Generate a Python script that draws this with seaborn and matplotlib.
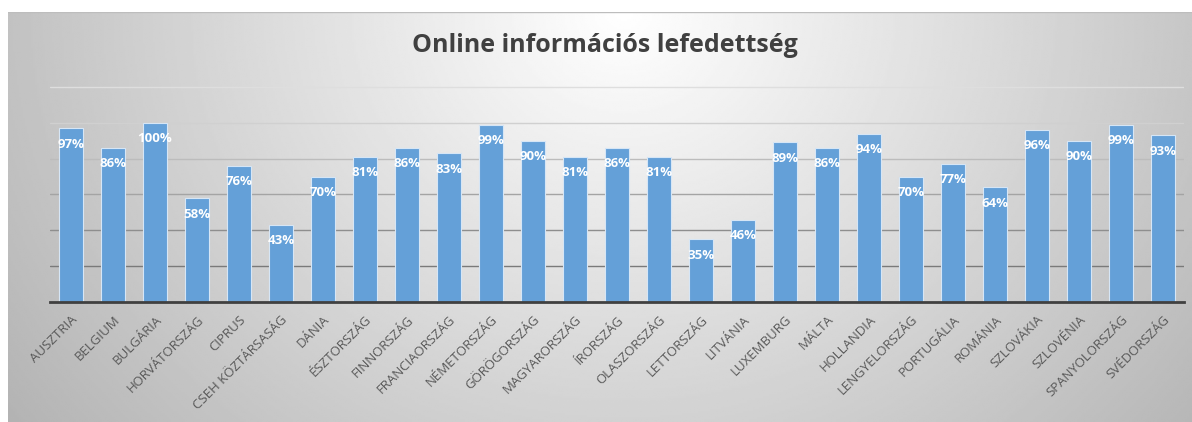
import numpy as np
import pandas as pd
import matplotlib
matplotlib.use('Agg')
import matplotlib.pyplot as plt
import seaborn as sns

# values
countries = ['AUSZTRIA', 'BELGIUM', 'BULGÁRIA', 'HORVÁTORSZÁG', 'CIPRUS',
             'CSEH KÖZTÁRSASÁG', 'DÁNIA', 'ÉSZTORSZÁG', 'FINNORSZÁG',
             'FRANCIAORSZÁG', 'NÉMETORSZÁG', 'GÖRÖGORSZÁG', 'MAGYARORSZÁG',
             'ÍRORSZÁG', 'OLASZORSZÁG', 'LETTORSZÁG', 'LITVÁNIA', 'LUXEMBURG',
             'MÁLTA', 'HOLLANDIA', 'LENGYELORSZÁG', 'PORTUGÁLIA', 'ROMÁNIA',
             'SZLOVÁKIA', 'SZLOVÉNIA', 'SPANYOLORSZÁG', 'SVÉDORSZÁG']
coverage = [97, 86, 100, 58, 76, 43, 70, 81, 86, 83, 99, 90, 81, 86, 81,
            35, 46, 89, 86, 94, 70, 77, 64, 96, 90, 99, 93]
grid_levels = [20, 40, 60, 80, 100, 120]
grid_colors = ['#7a7a7a', '#8e8e8e', '#a4a4a4', '#bcbcbc', '#d0d0d0', '#dedede']

df = pd.DataFrame({'country': countries, 'coverage': coverage})

sns.set_theme(style='white')
plt.rcParams['font.family'] = ['Open Sans', 'DejaVu Sans']

W, H = 1192, 422
fig = plt.figure(figsize=(W / 100, H / 100), dpi=100)
fig.patch.set_facecolor('white')

# gradient background of the chart frame
bg = fig.add_axes([8 / W, 0, 1 - 8 / W, (H - 12) / H])
yy, xx = np.mgrid[0:1:200j, 0:1:600j]
d = np.sqrt(((xx - 0.52) / 0.5) ** 2 + (yy / 1.3) ** 2)
shade = 1 - 0.23 * np.clip(d, 0, 1.3)
bg.imshow(shade, cmap='gray', vmin=0, vmax=1, aspect='auto', origin='upper',
          interpolation='bilinear')
bg.axhline(-0.5, color='#bdbdbd', lw=1)
bg.axis('off')

ax = fig.add_axes([50 / W, 1 - 302 / H, 1134 / W, 216 / H])
ax.set_facecolor('none')

sns.barplot(data=df, x='country', y='coverage', color='#64a0d8', width=0.55,
            saturation=1, edgecolor='#d6e6f6', linewidth=0.8, ax=ax, zorder=2)

for lvl, c in zip(grid_levels, grid_colors):
    ax.axhline(lvl, color=c, lw=1, zorder=0.5)

for i, v in enumerate(coverage):
    ax.annotate(f'{v}%', (i, v), xytext=(0, -11.5), textcoords='offset points',
                ha='center', va='center', color='white', fontsize=9.5,
                fontweight='bold', zorder=3)

ax.set_ylim(0, 120.5)
ax.set_xlim(-0.5, len(countries) - 0.5)
ax.set_yticks([])
ax.set_xlabel('')
ax.set_ylabel('')
ax.set_xticks(range(len(countries)))
ax.set_xticklabels(countries, rotation=45, ha='right', rotation_mode='anchor',
                   fontsize=9.5, color='#595959')
ax.tick_params(axis='x', length=0, pad=8)
for s in ['top', 'left', 'right']:
    ax.spines[s].set_visible(False)
ax.spines['bottom'].set_color('#404040')
ax.spines['bottom'].set_linewidth(2)

fig.text(605 / W, 1 - 46 / H, 'Online információs lefedettség', ha='center',
         va='center', fontsize=18, fontweight='bold', color='#404040')

fig.savefig('out.png', dpi=100)
